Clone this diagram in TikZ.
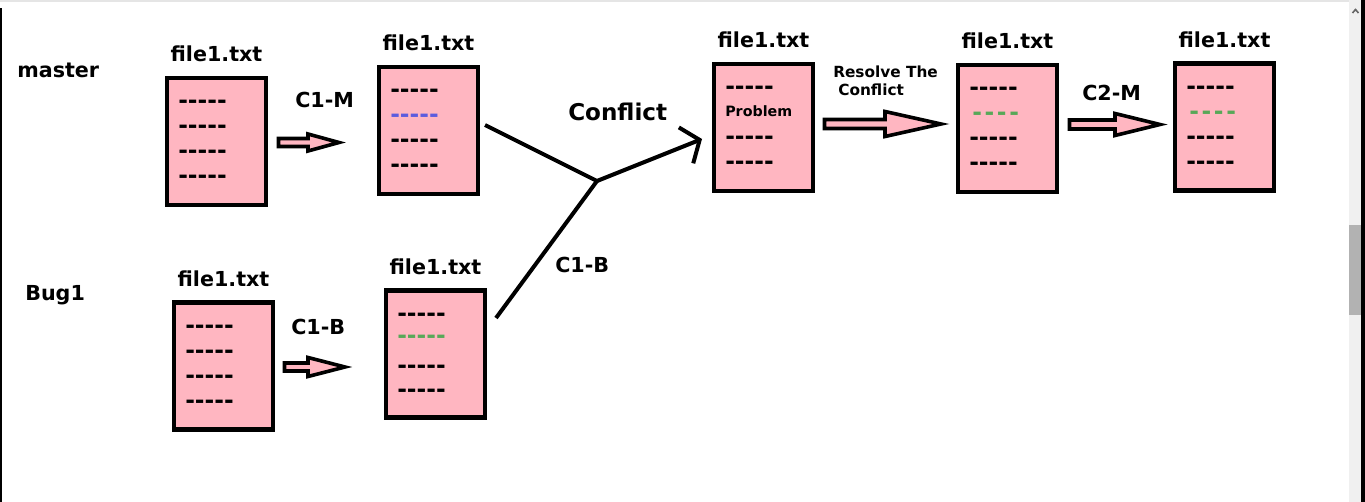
\documentclass[tikz,border=0pt]{standalone}
\usepackage{fontspec}
\setmainfont{DejaVu Sans}
\usepackage{tikz}
\usetikzlibrary{arrows.meta,calc}

\definecolor{boxpink}{RGB}{255,182,193}
\definecolor{rowblue}{RGB}{92,92,222}
\definecolor{rowgreen}{RGB}{88,168,88}
\definecolor{scrollbg}{RGB}{240,240,240}
\definecolor{scrollthumb}{RGB}{178,178,178}

\newcommand{\blackrow}{-\kern0pt-\kern0pt-\kern0pt-\kern0pt-}
\newcommand{\shortrow}{-\kern2pt-\kern2pt-\kern2pt-}

\tikzset{
  filebox/.style={draw, line width=3.2pt, fill=boxpink, minimum width=74.25pt, minimum height=95.25pt, inner sep=0pt, outer sep=0pt},
  fname/.style={inner sep=0pt, anchor=base, font=\fontsize{15.5}{18}\selectfont\bfseries},
  tag/.style={inner sep=0pt, anchor=base west, font=\fontsize{15.5}{18}\selectfont\bfseries},
  rowtxt/.style={inner sep=0pt, anchor=base west, font=\fontsize{17.5}{20}\selectfont\bfseries},
  fatarrow/.style={draw, line width=2.7pt, fill=boxpink, line join=miter},
  branch/.style={line width=3pt}
}

\begin{document}
\begin{tikzpicture}[x=0.75pt,y=0.75pt,yscale=-1,xscale=1]
        \useasboundingbox (0,0) rectangle (1365,502);

        % screen frame
        \fill[white] (0,0) rectangle (1365,502);
        \fill[black!10] (0,0) rectangle (1349,2.5);
        \fill[black] (0,8) rectangle (2,502);
        \fill[scrollbg] (1349,0) rectangle (1361,502);
        \fill[scrollthumb] (1349,225) rectangle (1361,315);
        \fill[black] (1361,0) rectangle (1365,502);
        \draw[black!60, line width=1.2pt] (1352.5,13) -- (1355.5,9.5) -- (1358.5,13);

        % Branch names
        \node[tag] (master) at (17,78) {master};
        \node[tag] (bug) at (25,301) {Bug1};

        % File boxes
        \node[filebox] (b1) at (216.5,141.5) {};
        \node[filebox] (b2) at (428.5,130.5) {};
        \node[filebox] (b3) at (763.5,127.5) {};
        \node[filebox] (b4) at (1007.5,128.5) {};
        \node[filebox] (b5) at (1224.5,127) {};
        \node[filebox] (b6) at (223.5,366) {};
        \node[filebox] (b7) at (435.5,354) {};

        % File names
        \node[fname] (t1) at ($(b1.north)+(0,-16)$) {file1.txt};
        \node[fname] (t2) at ($(b2.north)+(0,-16)$) {file1.txt};
        \node[fname] (t3) at ($(b3.north)+(0,-16)$) {file1.txt};
        \node[fname] (t4) at ($(b4.north)+(0,-16)$) {file1.txt};
        \node[fname] (t5) at ($(b5.north)+(0,-16)$) {file1.txt};
        \node[fname] (t6) at ($(b6.north)+(0,-16)$) {file1.txt};
        \node[fname] (t7) at ($(b7.north)+(0,-16)$) {file1.txt};

        % Text Node: rows of b1
        \node[rowtxt] (r11) at ($(b1.west)+(11,-32.5)$) {\blackrow};
        \node[rowtxt] (r12) at ($(b1.west)+(11,-7.5)$) {\blackrow};
        \node[rowtxt] (r13) at ($(b1.west)+(11,17.5)$) {\blackrow};
        \node[rowtxt] (r14) at ($(b1.west)+(11,42.5)$) {\blackrow};
        % Text Node: rows of b2
        \node[rowtxt] (r21) at ($(b2.west)+(11,-32.5)$) {\blackrow};
        \node[rowtxt, text=rowblue] (r22) at ($(b2.west)+(11,-7.5)$) {\blackrow};
        \node[rowtxt] (r23) at ($(b2.west)+(11,17.5)$) {\blackrow};
        \node[rowtxt] (r24) at ($(b2.west)+(11,42.5)$) {\blackrow};
        % Text Node: rows of b3
        \node[rowtxt] (r31) at ($(b3.west)+(11,-32.5)$) {\blackrow};
        \node[inner sep=0pt, anchor=base west, font=\fontsize{10.7}{13}\selectfont\bfseries] (r32) at ($(b3.west)+(11,-10.5)$) {Problem};
        \node[rowtxt] (r33) at ($(b3.west)+(11,17.5)$) {\blackrow};
        \node[rowtxt] (r34) at ($(b3.west)+(11,42.5)$) {\blackrow};
        % Text Node: rows of b4
        \node[rowtxt] (r41) at ($(b4.west)+(11,-32.5)$) {\blackrow};
        \node[rowtxt, text=rowgreen] (r42) at ($(b4.west)+(14,-7.5)$) {\shortrow};
        \node[rowtxt] (r43) at ($(b4.west)+(11,17.5)$) {\blackrow};
        \node[rowtxt] (r44) at ($(b4.west)+(11,42.5)$) {\blackrow};
        % Text Node: rows of b5
        \node[rowtxt] (r51) at ($(b5.west)+(11,-32.5)$) {\blackrow};
        \node[rowtxt, text=rowgreen] (r52) at ($(b5.west)+(14,-7.5)$) {\shortrow};
        \node[rowtxt] (r53) at ($(b5.west)+(11,17.5)$) {\blackrow};
        \node[rowtxt] (r54) at ($(b5.west)+(11,42.5)$) {\blackrow};
        % Text Node: rows of b6
        \node[rowtxt] (r61) at ($(b6.west)+(11,-32.5)$) {\blackrow};
        \node[rowtxt] (r62) at ($(b6.west)+(11,-7.5)$) {\blackrow};
        \node[rowtxt] (r63) at ($(b6.west)+(11,17.5)$) {\blackrow};
        \node[rowtxt] (r64) at ($(b6.west)+(11,42.5)$) {\blackrow};
        % Text Node: rows of b7
        \node[rowtxt] (r71) at ($(b7.west)+(11,-32.5)$) {\blackrow};
        \node[rowtxt, text=rowgreen] (r72) at ($(b7.west)+(11,-10.5)$) {\blackrow};
        \node[rowtxt] (r73) at ($(b7.west)+(11,19.5)$) {\blackrow};
        \node[rowtxt] (r74) at ($(b7.west)+(11,43.5)$) {\blackrow};

        % Fat arrows
        \draw[fatarrow] (278.5,138.5) -- (308,138.5) -- (308,134) -- (339,142.5) -- (308,151) -- (308,146.5) -- (278.5,146.5) -- cycle;
        \draw[fatarrow] (284.5,363) -- (308,363) -- (308,357.5) -- (345,367) -- (308,376.5) -- (308,371) -- (284.5,371) -- cycle;
        \draw[fatarrow] (824.5,119.5) -- (885,119.5) -- (885,111.5) -- (941,124) -- (885,136.5) -- (885,128.5) -- (824.5,128.5) -- cycle;
        \draw[fatarrow] (1069.5,120) -- (1115,120) -- (1115,113.5) -- (1160,124.5) -- (1115,135.5) -- (1115,129) -- (1069.5,129) -- cycle;

        % Arrow labels
        \node[tag] (c1m) at (295,108) {C1-M};
        \node[tag] (c1b) at (291,335) {C1-B};
        \node[tag] (c2m) at (1082,101) {C2-M};
        \node[inner sep=0pt, anchor=base west, font=\fontsize{11.5}{13.5}\selectfont\bfseries] (res1) at (833,78) {Resolve The};
        \node[inner sep=0pt, anchor=base west, font=\fontsize{11.5}{13.5}\selectfont\bfseries] (res2) at (838,96) {Conflict};

        % Merge lines
        \coordinate (mout) at ($(b2.east)+(7,-5.5)$);
        \coordinate (bout) at ($(b7.east)+(11,-36)$);
        \coordinate (jn) at (597,181);
        \coordinate (cin) at ($(b3.west)+(-12,11.5)$);
        \draw[branch] (mout) -- (jn);
        \draw[branch] (bout) -- (jn);
        \draw[branch, -{Straight Barb[length=11pt,width=29pt]}] (jn) -- (cin);

        \node[inner sep=0pt, anchor=base west, font=\fontsize{17.3}{20}\selectfont\bfseries] (conf) at (568,121) {Conflict};
        \node[tag] (c1b2) at (555,273) {C1-B};

    \end{tikzpicture}
\end{document}
